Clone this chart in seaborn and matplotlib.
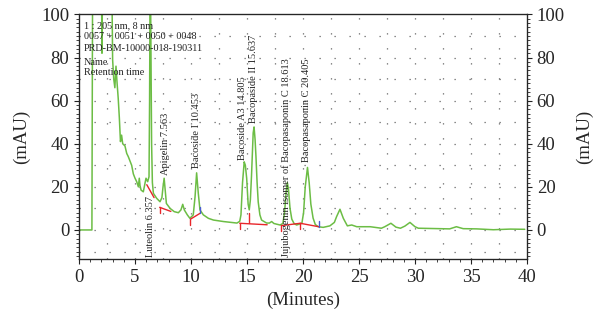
import numpy as np
import pandas as pd
import matplotlib
matplotlib.use("Agg")
import matplotlib.pyplot as plt
import seaborn as sns
from matplotlib.ticker import MultipleLocator

# chromatogram trace (minutes, mAU); values above 100 are off scale
time_min = [0, 1.0, 1.15, 1.22, 1.98, 2.05, 2.12, 2.9, 3.0, 3.1, 3.2, 3.3, 3.4, 3.5, 3.6,
            3.65, 3.7, 3.8, 3.9, 4.1, 4.26, 4.4, 4.55, 4.7, 4.85, 5.0, 5.15, 5.3, 5.38,
            5.45, 5.54, 5.74, 5.9, 5.98, 6.13, 6.25, 6.3, 6.36, 6.48, 6.55, 6.64, 6.93,
            7.23, 7.4, 7.5, 7.6, 7.7, 7.8, 8.13, 8.5, 8.87, 9.1, 9.26, 9.4, 9.67, 9.9,
            10.2, 10.36, 10.5, 10.65, 10.8, 11.1, 11.55, 12.0, 12.9, 14.1, 14.35, 14.46,
            14.6, 14.75, 14.85, 14.97, 15.1, 15.2, 15.3, 15.4, 15.55, 15.63, 15.72, 15.8,
            15.9, 16.0, 16.15, 16.3, 16.75, 17.0, 17.2, 17.4, 17.95, 18.2, 18.35, 18.5,
            18.6, 18.7, 18.84, 19.0, 19.2, 19.43, 19.9, 20.05, 20.2, 20.4, 20.55, 20.7,
            20.9, 21.1, 21.37, 21.8, 22.4, 22.8, 23.0, 23.3, 23.6, 23.96, 24.35, 24.8,
            26.0, 27.0, 27.3, 27.85, 28.3, 28.7, 29.1, 29.55, 30.0, 30.3, 33.1, 33.7,
            34.3, 35.5, 37.0, 38.5, 39.5, 39.8]
absorbance = [0, 0, 0, 130, 130, 82, 130, 130, 79, 70, 66, 76, 68, 61, 52,
              46, 41, 44, 40, 39, 35.5, 34, 32, 30, 26, 24, 22.4, 20, 24,
              20.5, 18.5, 17.7, 22, 24, 22.4, 24.7, 60, 130, 40, 22, 17, 14.7,
              13.1, 15, 20, 24, 18, 12.3, 10, 8.5, 8, 9.3, 11.9, 9.3, 7, 5.4,
              7, 15.4, 26.5, 17, 9.3, 7, 5.4, 4.6, 3.9, 3.2, 4.0, 7,
              22, 31.6, 30, 24, 12, 9.3, 14, 25, 45, 47.8, 42, 34,
              22, 13, 7, 4.6, 3.2, 3.2, 3.9, 3.0, 2.3, 3.0, 8, 18,
              22, 19, 10, 5, 3.0, 2.3, 3.1, 8, 20, 29, 22, 12,
              5.5, 2.5, 1.5, 1.2, 1.9, 3.5, 6.2, 9.6, 5.4, 1.9, 2.3, 1.5,
              1.5, 0.8, 1.5, 3.1, 1.3, 0.8, 1.8, 3.5, 1.5, 0.8, 0.5, 1.5,
              0.6, 0.5, 0.1, 0.4, 0.3, 0.3]

# peak labels
peak_names = ["Luteolin 6.357", "Apigelin 7.563", "Bacoside I 10.453", "Bacoside A3 14.805",
              "Bacopaside II 15.637", "Jujubogenin isomer of Bacopasaponin C 18.613",
              "Bacopasaponin C 20.405"]
peak_label_x = [6.34, 7.68, 10.49, 14.62, 15.58, 18.53, 20.33]
peak_label_y = [-12.5, 25.5, 28.7, 32.4, 49.5, -12.5, 31.5]

# integration baselines (x0, y0, x1, y1)
base_x0 = [6.05, 7.2, 9.95, 14.35, 18.05, 19.75]
base_y0 = [21, 10.5, 5.0, 3.1, 2.0, 3.1]
base_x1 = [6.7, 8.2, 10.8, 16.8, 19.75, 21.4]
base_y1 = [15, 8.6, 7.7, 2.4, 3.1, 1.5]
red_tick_x = [7.2, 9.95, 14.35, 18.05, 19.75]
red_tick_y = [10.5, 5.0, 3.1, 2.0, 3.1]
blue_tick_x = [10.8, 21.4]
blue_tick_y = [7.7, 1.5]
drop_x = [15.22]
drop_y = [8.0]

header_lines = ["1 : 205 nm, 8 nm", "0057 + 0051 + 0050 + 0048",
                "PRD-BM-10000-018-190311", "Name", "Retention time"]
header_y = [94.9, 89.9, 84.0, 77.8, 73.2]

sns.set_style("ticks")
plt.rcParams['font.family'] = ['Liberation Serif', 'DejaVu Serif']

green = "#6cbd45"
red = "#e8262b"
blue = "#4a5ccf"

fig = plt.figure(figsize=(5.96, 3.21), dpi=100)
ax = fig.add_axes([0.1326, 0.193, 0.7516, 0.762])

df = pd.DataFrame({"t": time_min, "a": absorbance})
sns.lineplot(data=df, x="t", y="a", ax=ax, color=green, lw=1.1, estimator=None, sort=False)

for x0, y0, x1, y1 in zip(base_x0, base_y0, base_x1, base_y1):
    ax.plot([x0, x1], [y0, y1], color=red, lw=1.0)
for x, y in zip(red_tick_x, red_tick_y):
    ax.plot([x, x], [y - 2.5, y], color=red, lw=1.0)
for x, y in zip(blue_tick_x, blue_tick_y):
    ax.plot([x, x], [y, y + 2.8], color=blue, lw=1.0)
for x, y in zip(drop_x, drop_y):
    ax.plot([x, x], [3.0, y], color=red, lw=1.0)

for name, x, y in zip(peak_names, peak_label_x, peak_label_y):
    ax.text(x, y, name, rotation=90, ha="center", va="bottom", fontsize=7.5, color="#222222")

for line, y in zip(header_lines, header_y):
    ax.text(0.45, y, line, ha="left", va="center", fontsize=7.3, color="#222222")

ax.set_xlim(0, 40)
ax.set_ylim(-13.5, 100)
ax.xaxis.set_major_locator(MultipleLocator(5))
ax.xaxis.set_minor_locator(MultipleLocator(1))
ax.yaxis.set_major_locator(MultipleLocator(20))
ax.yaxis.set_minor_locator(MultipleLocator(2))
ax.set_yticks([0, 20, 40, 60, 80, 100])

for gx in np.arange(2.5, 40, 2.5):
    ax.axvline(gx, color="#666666", lw=0.9, ls=(0, (1, 11)), zorder=0)
for gy in np.arange(-10, 100, 10):
    ax.axhline(gy, color="#666666", lw=0.9, ls=(0, (1, 11)), zorder=0)

ax.set_xlabel("(Minutes)", fontsize=13.5, labelpad=4)
ax.set_ylabel("(mAU)", fontsize=13.5, labelpad=8)
ax.tick_params(axis="both", which="major", labelsize=13.5, length=3.5, width=0.8, color="#222222")
ax.tick_params(axis="both", which="minor", length=2, width=0.6, color="#222222")
for s in ax.spines.values():
    s.set_linewidth(0.9)
    s.set_color("#222222")

ax2 = ax.twinx()
ax2.set_ylim(ax.get_ylim())
ax2.set_yticks([0, 20, 40, 60, 80, 100])
ax2.yaxis.set_minor_locator(MultipleLocator(2))
ax2.tick_params(axis="y", which="major", labelsize=13.5, length=3.5, width=0.8, color="#222222")
ax2.tick_params(axis="y", which="minor", length=2, width=0.6, color="#222222")
ax2.set_ylabel("(mAU)", fontsize=13.5, labelpad=8)

fig.savefig("out.png", dpi=100)
